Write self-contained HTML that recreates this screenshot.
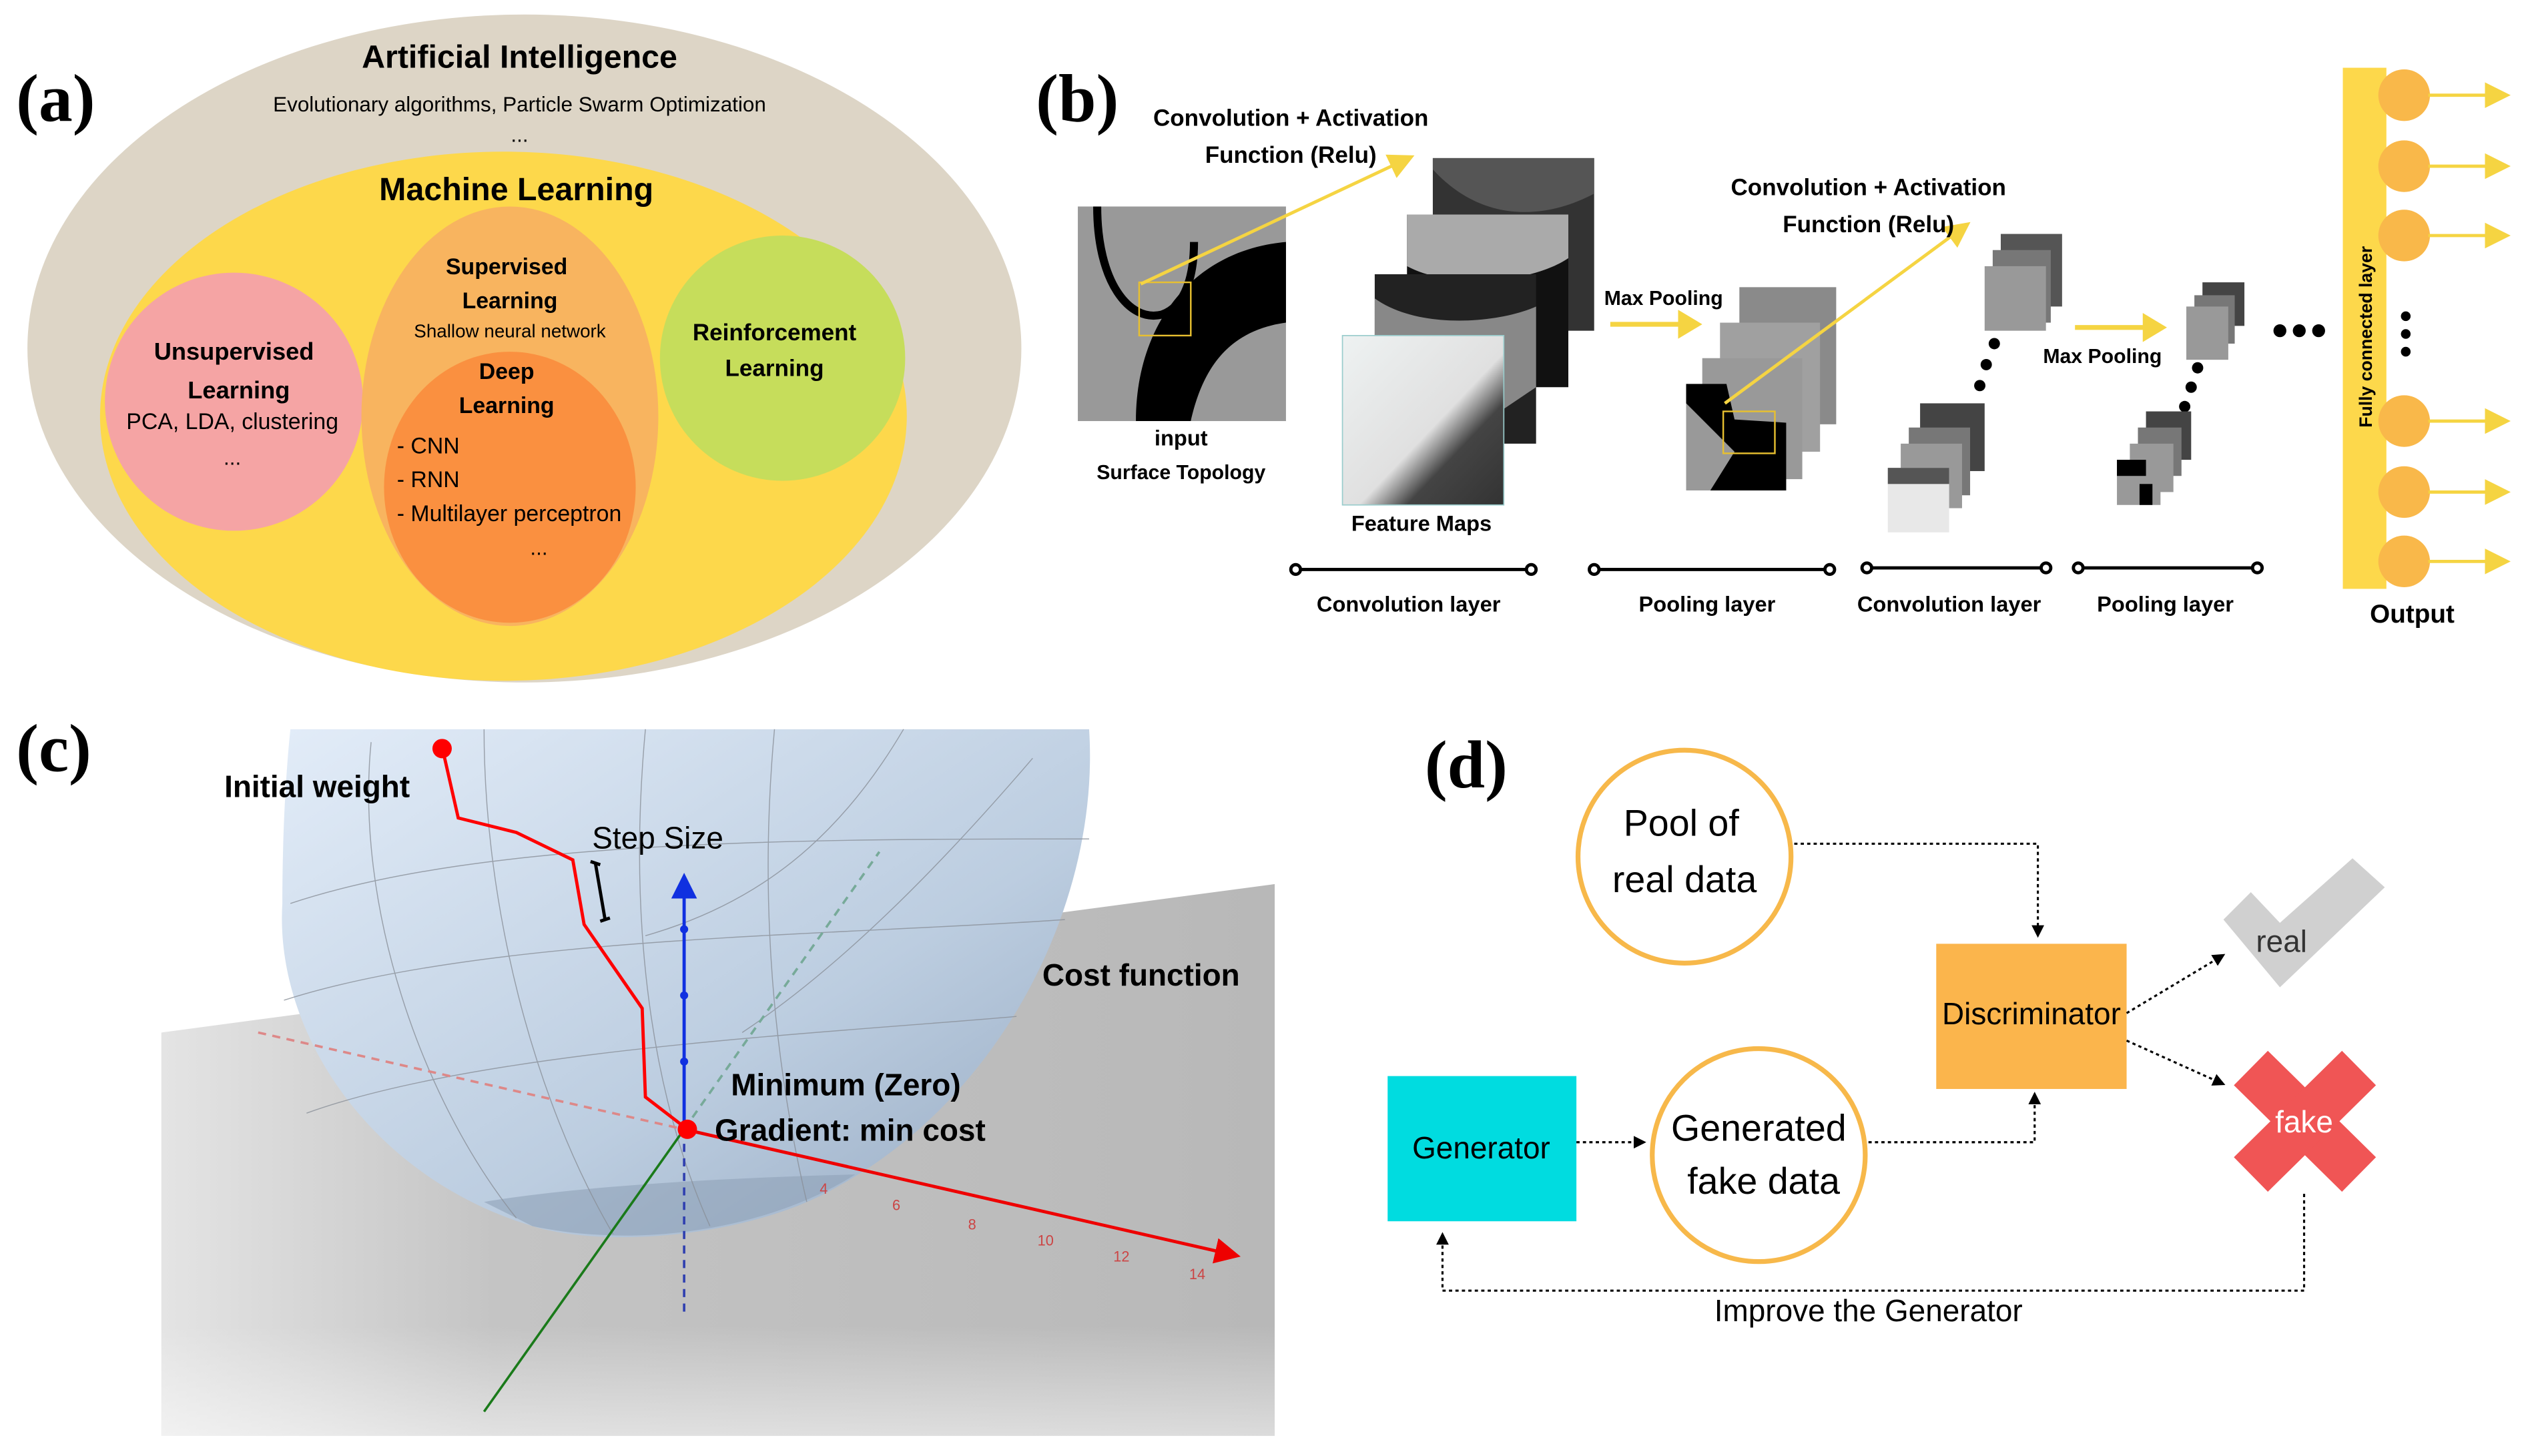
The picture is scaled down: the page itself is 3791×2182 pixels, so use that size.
<!DOCTYPE html>
<html><head><meta charset="utf-8"><style>
html,body{margin:0;padding:0;background:#fff}
svg{display:block}
text{font-family:"Liberation Sans",sans-serif}
.b{font-weight:bold}
</style></head><body>
<svg width="3791" height="2182" viewBox="0 0 1568 902.5" preserveAspectRatio="none" xmlns="http://www.w3.org/2000/svg">
<defs>
<linearGradient id="bowl" x1="0" y1="0" x2="1" y2="1"><stop offset="0" stop-color="#e2ecf8"/><stop offset="0.6" stop-color="#bccde0"/><stop offset="1" stop-color="#94a8c0"/></linearGradient>
<linearGradient id="plane" x1="0" y1="0" x2="1" y2="0"><stop offset="0" stop-color="#e4e4e4"/><stop offset="0.3" stop-color="#c4c4c4"/><stop offset="1" stop-color="#b8b8b8"/></linearGradient>
<linearGradient id="planeb" x1="0" y1="0" x2="0" y2="1"><stop offset="0.8" stop-color="#fff" stop-opacity="0"/><stop offset="1" stop-color="#fff" stop-opacity="0.5"/></linearGradient>
<linearGradient id="fm" x1="0" y1="0" x2="1" y2="1"><stop offset="0" stop-color="#eef2f2"/><stop offset="0.55" stop-color="#e0e0e0"/><stop offset="0.7" stop-color="#444"/><stop offset="1" stop-color="#333"/></linearGradient>
<marker id="ay" markerWidth="8" markerHeight="8" refX="6" refY="4" orient="auto"><path d="M0,0 L8,4 L0,8 Z" fill="#f5d442"/></marker>
<marker id="ay2" markerWidth="5" markerHeight="6" refX="4" refY="3" orient="auto"><path d="M0,0 L5,3 L0,6 Z" fill="#f5d442"/></marker>
<marker id="ak" markerWidth="6" markerHeight="6" refX="5" refY="3" orient="auto"><path d="M0,0 L6,3 L0,6 Z" fill="#000"/></marker>
<marker id="ar" markerWidth="8" markerHeight="8" refX="6" refY="4" orient="auto"><path d="M0,0 L8,4 L0,8 Z" fill="#e00"/></marker>
<marker id="ab" markerWidth="8" markerHeight="8" refX="6" refY="4" orient="auto"><path d="M0,0 L8,4 L0,8 Z" fill="#1030e0"/></marker>
</defs>

<!-- (a) -->
<text x="10" y="75" font-size="42" style="font-family:'Liberation Serif',serif;font-weight:bold">(a)</text>
<ellipse cx="325" cy="216" rx="308" ry="207" fill="#ddd5c6"/>
<text x="322" y="42" font-size="20" class="b" text-anchor="middle">Artificial Intelligence</text>
<text x="322" y="69" font-size="13" text-anchor="middle">Evolutionary algorithms, Particle Swarm Optimization</text>
<text x="322" y="88" font-size="13" text-anchor="middle">...</text>
<ellipse cx="312" cy="258" rx="250" ry="164" fill="#fdd84b"/>
<text x="320" y="124" font-size="20" class="b" text-anchor="middle">Machine Learning</text>
<circle cx="145" cy="249" r="80" fill="#f5a4a4"/>
<text x="145" y="223" font-size="15" class="b" text-anchor="middle">Unsupervised</text>
<text x="148" y="247" font-size="15" class="b" text-anchor="middle">Learning</text>
<text x="144" y="266" font-size="14" text-anchor="middle">PCA, LDA, clustering</text>
<text x="144" y="288" font-size="13" text-anchor="middle">...</text>
<ellipse cx="316" cy="258" rx="92" ry="130" fill="#f8b45f"/>
<text x="314" y="170" font-size="14" class="b" text-anchor="middle">Supervised</text>
<text x="316" y="191" font-size="14" class="b" text-anchor="middle">Learning</text>
<text x="316" y="209" font-size="11.5" text-anchor="middle">Shallow neural network</text>
<ellipse cx="316" cy="302" rx="78" ry="84" fill="#fa9040"/>
<text x="314" y="235" font-size="14" class="b" text-anchor="middle">Deep</text>
<text x="314" y="256" font-size="14" class="b" text-anchor="middle">Learning</text>
<text x="246" y="281" font-size="14">- CNN</text>
<text x="246" y="302" font-size="14">- RNN</text>
<text x="246" y="323" font-size="14">- Multilayer perceptron</text>
<text x="334" y="344" font-size="13" text-anchor="middle">...</text>
<circle cx="485" cy="222" r="76" fill="#c6dd5b"/>
<text x="480" y="211" font-size="14.5" class="b" text-anchor="middle">Reinforcement</text>
<text x="480" y="233" font-size="14.5" class="b" text-anchor="middle">Learning</text>

<!-- (b) -->
<text x="642" y="75" style="font-family:'Liberation Serif',serif;font-weight:bold" font-size="42">(b)</text>
<text x="800" y="78" font-size="14.5" class="b" text-anchor="middle">Convolution + Activation</text>
<text x="800" y="101" font-size="14.5" class="b" text-anchor="middle">Function (Relu)</text>
<rect x="668" y="128" width="129" height="133" fill="#999"/>
<path d="M680,128 C680,175 700,200 720,195 C735,190 740,170 740,150" stroke="#000" stroke-width="5" fill="none"/>
<path d="M704,261 C704,200 740,155 797,150 L797,200 C760,205 745,230 738,261 Z" fill="#000"/>
<rect x="706" y="175" width="32" height="33" fill="none" stroke="#e8c030" stroke-width="1"/>
<line x1="707" y1="176" x2="873" y2="98" stroke="#f5d442" stroke-width="2" marker-end="url(#ay)"/>
<text x="732" y="276" font-size="13.5" class="b" text-anchor="middle">input</text>
<text x="732" y="297" font-size="12.5" class="b" text-anchor="middle">Surface Topology</text>
<rect x="888" y="98" width="100" height="107" fill="#333"/>
<path d="M888,105 C920,140 960,135 988,120 L988,98 L888,98 Z" fill="#555"/>
<rect x="872" y="133" width="100" height="107" fill="#111"/>
<path d="M872,165 C900,180 950,175 972,160 L972,133 L872,133 Z" fill="#aaa"/>
<rect x="852" y="170" width="100" height="105" fill="#222"/>
<path d="M852,185 C880,205 930,200 952,190 L952,240 L900,275 L852,275 Z" fill="#888"/>
<rect x="832" y="208" width="100" height="105" fill="url(#fm)" stroke="#9cc" stroke-width="0.7"/>
<text x="881" y="329" font-size="13.5" class="b" text-anchor="middle">Feature Maps</text>
<text x="1031" y="189" font-size="12.5" class="b" text-anchor="middle">Max Pooling</text>
<line x1="998" y1="201" x2="1052" y2="201" stroke="#f5d442" stroke-width="3" marker-end="url(#ay2)"/>
<rect x="1078" y="178" width="60" height="85" fill="#8a8a8a"/>
<rect x="1066" y="200" width="62" height="80" fill="#a0a0a0"/>
<rect x="1055" y="222" width="62" height="75" fill="#999"/>
<rect x="1045" y="238" width="62" height="66" fill="#999"/>
<path d="M1045,238 L1070,238 L1075,260 L1107,262 L1107,304 L1060,304 L1075,280 L1045,250 Z" fill="#000"/>
<rect x="1068" y="255" width="32" height="26" fill="none" stroke="#e8c030" stroke-width="1"/>
<line x1="1069" y1="250" x2="1218" y2="140" stroke="#f5d442" stroke-width="2" marker-end="url(#ay)"/>
<text x="1158" y="121" font-size="14.5" class="b" text-anchor="middle">Convolution + Activation</text>
<text x="1158" y="144" font-size="14.5" class="b" text-anchor="middle">Function (Relu)</text>
<rect x="1240" y="145" width="38" height="45" fill="#555"/>
<rect x="1235" y="155" width="36" height="45" fill="#777"/>
<rect x="1230" y="165" width="38" height="40" fill="#999"/>
<circle cx="1236" cy="213" r="3.5"/><circle cx="1231" cy="226" r="3.5"/><circle cx="1227" cy="239" r="3.5"/>
<rect x="1190" y="250" width="40" height="42" fill="#444"/>
<rect x="1183" y="265" width="38" height="42" fill="#777"/>
<rect x="1178" y="275" width="38" height="40" fill="#999"/>
<rect x="1170" y="290" width="38" height="40" fill="#e8e8e8"/>
<rect x="1170" y="290" width="38" height="10" fill="#555"/>
<line x1="1286" y1="203" x2="1340" y2="203" stroke="#f5d442" stroke-width="3" marker-end="url(#ay2)"/>
<text x="1303" y="225" font-size="12.5" class="b" text-anchor="middle">Max Pooling</text>
<rect x="1365" y="175" width="26" height="27" fill="#444"/>
<rect x="1360" y="183" width="25" height="30" fill="#777"/>
<rect x="1355" y="190" width="26" height="33" fill="#999"/>
<circle cx="1362" cy="228" r="3.5"/><circle cx="1358" cy="240" r="3.5"/><circle cx="1354" cy="252" r="3.5"/>
<rect x="1330" y="255" width="28" height="30" fill="#444"/>
<rect x="1325" y="265" width="27" height="30" fill="#777"/>
<rect x="1320" y="275" width="27" height="30" fill="#999"/>
<rect x="1312" y="285" width="27" height="28" fill="#999"/>
<rect x="1312" y="285" width="18" height="10" fill="#000"/>
<rect x="1326" y="300" width="8" height="13" fill="#000"/>
<circle cx="1413" cy="205" r="4"/><circle cx="1425" cy="205" r="4"/><circle cx="1437" cy="205" r="4"/>
<rect x="1452" y="42" width="27" height="323" fill="#fdd84b"/>
<text transform="translate(1470,265) rotate(-90)" font-size="11" class="b">Fully connected layer</text>
<g fill="#f9b84a">
<circle cx="1490" cy="59" r="16"/><circle cx="1490" cy="103" r="16"/><circle cx="1490" cy="146" r="16"/>
<circle cx="1490" cy="261" r="16"/><circle cx="1490" cy="305" r="16"/><circle cx="1490" cy="348" r="16"/></g>
<circle cx="1491" cy="196" r="3"/><circle cx="1491" cy="207" r="3"/><circle cx="1491" cy="218" r="3"/>
<g stroke="#f5d442" stroke-width="2">
<line x1="1505" y1="59" x2="1552" y2="59" marker-end="url(#ay)"/><line x1="1505" y1="103" x2="1552" y2="103" marker-end="url(#ay)"/><line x1="1505" y1="146" x2="1552" y2="146" marker-end="url(#ay)"/>
<line x1="1505" y1="261" x2="1552" y2="261" marker-end="url(#ay)"/><line x1="1505" y1="305" x2="1552" y2="305" marker-end="url(#ay)"/><line x1="1505" y1="348" x2="1552" y2="348" marker-end="url(#ay)"/></g>
<text x="1495" y="386" font-size="16" class="b" text-anchor="middle">Output</text>
<g stroke="#000" stroke-width="2" fill="#fff">
<line x1="803" y1="353" x2="949" y2="353"/><circle cx="803" cy="353" r="3"/><circle cx="949" cy="353" r="3"/>
<line x1="988" y1="353" x2="1134" y2="353"/><circle cx="988" cy="353" r="3"/><circle cx="1134" cy="353" r="3"/>
<line x1="1157" y1="352" x2="1268" y2="352"/><circle cx="1157" cy="352" r="3"/><circle cx="1268" cy="352" r="3"/>
<line x1="1288" y1="352" x2="1399" y2="352"/><circle cx="1288" cy="352" r="3"/><circle cx="1399" cy="352" r="3"/></g>
<g font-size="13.5" class="b" text-anchor="middle">
<text x="873" y="379">Convolution layer</text><text x="1058" y="379">Pooling layer</text>
<text x="1208" y="379">Convolution layer</text><text x="1342" y="379">Pooling layer</text></g>

<!-- (c) -->
<text x="10" y="478" style="font-family:'Liberation Serif',serif;font-weight:bold" font-size="42">(c)</text>
<polygon points="100,640 790,548 790,890 100,890" fill="url(#plane)"/>
<polygon points="100,640 790,548 790,890 100,890" fill="url(#planeb)"/>
<path d="M180,452 L675,452 C682,560 620,680 520,735 C470,765 380,775 330,760 C230,730 170,640 175,560 C175,510 178,470 180,452 Z" fill="url(#bowl)"/>
<path d="M300,745 C360,735 450,730 530,728 C480,760 400,775 330,760 Z" fill="#8fa2b8" opacity="0.6"/>
<g stroke="#8a9099" stroke-width="0.6" fill="none" opacity="0.8">
<path d="M180,560 C300,520 500,520 675,520"/><path d="M176,620 C300,580 520,580 660,570"/><path d="M190,690 C300,650 520,640 630,630"/>
<path d="M560,452 C520,520 470,560 400,580"/><path d="M640,470 C580,540 520,600 460,640"/>
<path d="M300,452 C300,560 330,680 380,765"/><path d="M400,452 C390,560 400,670 440,760"/><path d="M230,460 C220,560 260,680 320,755"/>
<path d="M480,452 C470,560 480,660 500,745"/></g>
<line x1="160" y1="640" x2="424" y2="700" stroke="#d88" stroke-width="1.5" stroke-dasharray="5,4"/>
<line x1="424" y1="700" x2="765" y2="778" stroke="#e00" stroke-width="2" marker-end="url(#ar)"/>
<line x1="300" y1="875" x2="424" y2="700" stroke="#1a7a1a" stroke-width="1.5"/>
<line x1="424" y1="700" x2="545" y2="528" stroke="#7a9" stroke-width="1.5" stroke-dasharray="5,4"/>
<line x1="424" y1="700" x2="424" y2="545" stroke="#1030e0" stroke-width="2" marker-end="url(#ab)"/>
<line x1="424" y1="700" x2="424" y2="815" stroke="#3040b0" stroke-width="1.5" stroke-dasharray="5,4"/>
<g fill="#1030e0"><circle cx="424" cy="658" r="2.5"/><circle cx="424" cy="617" r="2.5"/><circle cx="424" cy="576" r="2.5"/></g>
<g font-size="9" fill="#c44"><text x="508" y="740">4</text><text x="553" y="750">6</text><text x="600" y="762">8</text><text x="643" y="772">10</text><text x="690" y="782">12</text><text x="737" y="793">14</text></g>
<polyline points="274,463 284,507 320,516 355,533 362,573 398,625 400,680 426,700" fill="none" stroke="#f00" stroke-width="2"/>
<circle cx="274" cy="464" r="6" fill="#f00"/>
<circle cx="426" cy="700" r="6" fill="#f00"/>
<path d="M366,534 L372,536 M369,535 L375,570 M372,571 L378,569" stroke="#000" stroke-width="2"/>
<text x="139" y="494" font-size="19" class="b">Initial weight</text>
<text x="367" y="526" font-size="19">Step Size</text>
<text x="646" y="611" font-size="19" class="b">Cost function</text>
<text x="453" y="679" font-size="19" class="b">Minimum (Zero)</text>
<text x="443" y="707" font-size="19" class="b">Gradient: min cost</text>

<!-- (d) -->
<text x="883" y="488" style="font-family:'Liberation Serif',serif;font-weight:bold" font-size="42">(d)</text>
<circle cx="1044" cy="531" r="66" fill="#fff" stroke="#f7b84a" stroke-width="3"/>
<text x="1042" y="518" font-size="23" text-anchor="middle">Pool of</text>
<text x="1044" y="553" font-size="23" text-anchor="middle">real data</text>
<circle cx="1090" cy="716" r="66" fill="#fff" stroke="#f7b84a" stroke-width="3"/>
<text x="1090" y="707" font-size="23" text-anchor="middle">Generated</text>
<text x="1093" y="740" font-size="23" text-anchor="middle">fake data</text>
<rect x="1200" y="585" width="118" height="90" fill="#fbb54c"/>
<text x="1259" y="635" font-size="19" text-anchor="middle">Discriminator</text>
<rect x="860" y="667" width="117" height="90" fill="#00dce0"/>
<text x="918" y="718" font-size="19" text-anchor="middle">Generator</text>
<polygon points="1378,570 1395,553 1413,572 1458,532 1478,550 1413,612" fill="#d0d0d0"/>
<text x="1414" y="590" font-size="19" text-anchor="middle" fill="#333">real</text>
<g stroke="#f05555" stroke-width="30" stroke-linecap="butt"><line x1="1395" y1="662" x2="1462" y2="728"/><line x1="1462" y1="662" x2="1395" y2="728"/></g>
<text x="1428" y="702" font-size="19" text-anchor="middle" fill="#fff">fake</text>
<g stroke="#000" stroke-width="1.3" stroke-dasharray="2,2" fill="none">
<polyline points="1112,523 1263,523 1263,580" marker-end="url(#ak)"/>
<line x1="977" y1="708" x2="1019" y2="708" marker-end="url(#ak)"/>
<polyline points="1158,708 1261,708 1261,678" marker-end="url(#ak)"/>
<line x1="1318" y1="628" x2="1378" y2="592" marker-end="url(#ak)"/>
<line x1="1318" y1="645" x2="1378" y2="672" marker-end="url(#ak)"/>
<polyline points="1428,740 1428,800 894,800 894,765" marker-end="url(#ak)"/>
</g>
<text x="1158" y="819" font-size="19" text-anchor="middle">Improve the Generator</text>
</svg>
</body></html>
